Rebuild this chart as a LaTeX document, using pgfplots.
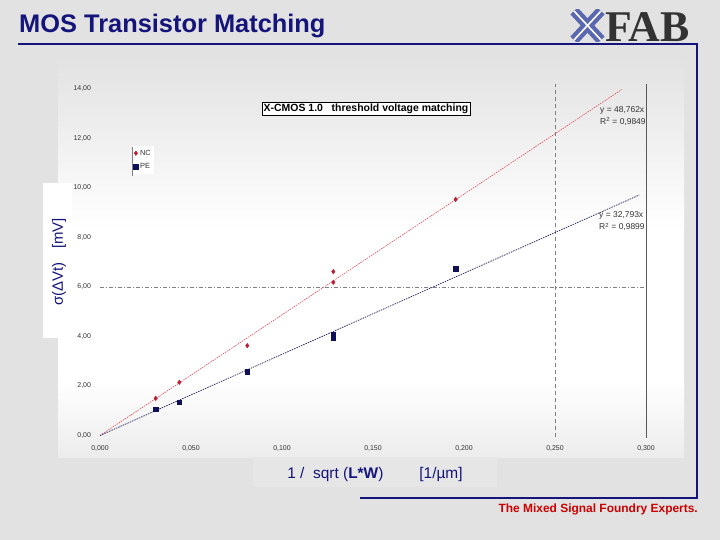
\documentclass[border=0pt]{standalone}
\usepackage{pgfplots}
\pgfplotsset{compat=1.18}
\usepackage{fontspec}
\setmainfont{Liberation Sans}
\newfontfamily\logofont{Liberation Serif}
\definecolor{navy}{HTML}{14147A}
\definecolor{bggray}{HTML}{E2E2E2}
\definecolor{bggray2}{HTML}{ECECEC}
\definecolor{xlabbox}{HTML}{E6E6E6}
\definecolor{ncred}{HTML}{B82035}
\definecolor{nclin}{HTML}{E04858}
\definecolor{pe}{HTML}{10105A}
\definecolor{pelin}{HTML}{20205A}
\definecolor{ticktext}{HTML}{333333}
\definecolor{logoblue}{HTML}{5A68B0}
\definecolor{footred}{HTML}{CC0000}
\begin{document}
\begin{tikzpicture}[x=1bp,y=1bp]
% background
\fill[bggray] (0,0) rectangle (720,540);
\shade[top color=bggray, bottom color=white] (58,482) rectangle (684,310);
\fill[white] (58,310.5) rectangle (684,160);
\shade[top color=white, bottom color=bggray2] (58,160.5) rectangle (684,82);
% title
\node[anchor=base west, inner sep=0, text=navy, font=\fontsize{25.5}{30}\selectfont\bfseries] at (19,540-33) {MOS Transistor Matching};
% logo
\begin{scope}
\draw[logoblue, line width=10bp] (574,540-11) -- (601,540-40);
\draw[logoblue, line width=10bp] (601,540-11) -- (574,540-40);
\draw[white, line width=1.6bp] (574,540-11) -- (601,540-40);
\draw[white, line width=1.6bp] (601,540-11) -- (574,540-40);
\fill[bggray] (568,540-9) rectangle (607,540-5);
\fill[bggray] (568,540-42) rectangle (607,540-46);
\end{scope}
\node[anchor=base west, inner sep=0, text=black!80, font=\fontsize{44}{50}\logofont\bfseries] at (605,540-41.5) {FAB};
% frame
\draw[navy, line width=2bp] (18,540-44) -- (697,540-44) -- (697,540-498) -- (360,540-498);
% footer
\node[anchor=base east, inner sep=0, text=footred, font=\fontsize{12}{14}\selectfont\bfseries] at (698,540-513) {The Mixed Signal Foundry Experts.};
% axis label boxes
\fill[white] (43,540-183) rectangle (72,540-338);
\node[rotate=90, text=navy, font=\fontsize{15}{18}\selectfont, inner sep=0] at (59,540-262) {σ(ΔVt)\hspace{14bp}[mV]};
\fill[xlabbox] (253,540-457) rectangle (497,540-487) ;
\node[text=navy, font=\fontsize{15.5}{18}\selectfont, inner sep=0, anchor=base] at (375,540-479) {1 /\ \ sqrt (\textbf{L*W})\hspace{36bp}[1/µm]};
\begin{axis}[
  at={(100bp,104.5bp)}, anchor=south west,
  scale only axis, width=546bp, height=346.5bp,
  xmin=0, xmax=0.3, ymin=0, ymax=14,
  clip=false,
  axis line style={draw=none},
  major tick length=0pt,
  xtick={0,0.05,0.1,0.15,0.2,0.25,0.3},
  ytick={0,2,4,6,8,10,12,14},
  /pgf/number format/assume math mode=true,
  tick label style={font=\fontsize{7}{8}\selectfont, text=ticktext},
  xticklabel style={yshift=-7bp, /pgf/number format/.cd, fixed, fixed zerofill, precision=3, use comma},
  yticklabel style={xshift=-5.5bp, /pgf/number format/.cd, fixed, fixed zerofill, precision=2, use comma},
  scaled x ticks=false, scaled y ticks=false,
  legend style={at={(0.0586,0.835)}, anchor=north west, draw=none, fill=white,
    font=\fontsize{7.5}{9}\selectfont, inner sep=1.5bp, row sep=3bp, text=ticktext},
  legend cell align=left,
]
% reference lines
\addplot[gray, dash pattern=on 4bp off 2bp on 1bp off 2bp, line width=0.5bp, forget plot] coordinates {(0,6) (0.3,6)};
\addplot[gray, dash pattern=on 4bp off 3bp, line width=0.5bp, forget plot] coordinates {(0.25,-0.08) (0.25,14.2)};
\addplot[gray!70!black, line width=0.8bp, forget plot] coordinates {(0.3,-0.1) (0.3,14.2)};
% trend lines
\addplot[nclin, line width=0.6bp, dash pattern=on 1.5bp off 1bp, forget plot] coordinates {(0,0) (0.2866,13.975)};
\addplot[pelin, line width=0.7bp, dash pattern=on 1.5bp off 1bp, forget plot] coordinates {(0,0) (0.2963,9.717)};
% data
\addplot[only marks, mark=diamond*, mark size=2.3bp, color=ncred] coordinates {
 (0.0306,1.50) (0.0436,2.15) (0.0809,3.63) (0.1282,6.62) (0.1282,6.19) (0.1954,9.54)};
\addlegendentry{NC}
\addplot[only marks, mark=square*, mark size=2.2bp, color=pe] coordinates {
 (0.0306,1.06) (0.0436,1.34) (0.0809,2.58) (0.1282,4.10) (0.1282,3.95) (0.1954,6.74)};
\addlegendentry{PE}
\end{axis}
% legend border
\draw[gray, line width=0.6bp] (132,540-147) -- (132,540-176);
% chart title
\node[draw=black, fill=white, line width=0.6bp, inner sep=1.5bp, font=\fontsize{10.5}{12}\selectfont\bfseries, anchor=center] at (366,540-109) {X-CMOS 1.0\ \ \ threshold voltage matching};
% equations
\node[anchor=west, inner sep=0, text=ticktext, font=\fontsize{8.5}{10}\selectfont] at (600,540-110) {y = 48,762x};
\node[anchor=west, inner sep=0, text=ticktext, font=\fontsize{8.5}{10}\selectfont] at (600,540-121.5) {R\textsuperscript{2} = 0,9849};
\node[anchor=west, inner sep=0, text=ticktext, font=\fontsize{8.5}{10}\selectfont] at (599,540-215) {y = 32,793x};
\node[anchor=west, inner sep=0, text=ticktext, font=\fontsize{8.5}{10}\selectfont] at (599,540-227) {R\textsuperscript{2} = 0,9899};
\end{tikzpicture}
\end{document}
